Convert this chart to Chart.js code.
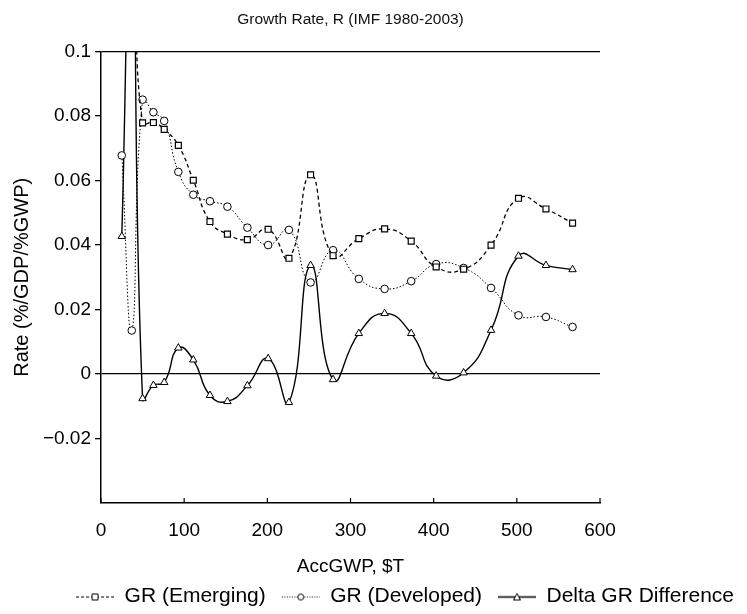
<!DOCTYPE html>
<html>
<head>
<meta charset="utf-8">
<script src="https://cdn.jsdelivr.net/npm/chart.js@4/dist/chart.umd.min.js"></script>
<style>
  html, body { margin: 0; padding: 0; background: #fff; }
  #wrap { width: 747px; height: 614px; }
</style>
</head>
<body>
<div id="wrap"><canvas id="growthChart" width="747" height="614"></canvas></div>
<script>
// accumulated gross world product, $T (x positions of each year)
var accGWP = [25, 37, 50, 63, 76, 93, 111, 131, 152, 176, 201, 226, 252, 279, 310, 341, 373, 403, 436, 469, 502, 535, 567];

// growth rate series
var grEmerging = [0.1105, 0.125, 0.0779, 0.0780, 0.0759, 0.0709, 0.0601, 0.0473, 0.0434, 0.0417, 0.0449, 0.0359, 0.0618, 0.0367, 0.0420, 0.0450, 0.0412, 0.0332, 0.0325, 0.0400, 0.0545, 0.0512, 0.0468];
var grDeveloped = [0.0678, 0.0135, 0.0851, 0.0812, 0.0785, 0.0627, 0.0556, 0.0536, 0.0519, 0.0454, 0.0400, 0.0447, 0.0284, 0.0384, 0.0295, 0.0264, 0.0288, 0.0341, 0.0329, 0.0267, 0.0182, 0.0177, 0.0146];
var grDelta = [0.0427, 0.150, -0.0076, -0.0035, -0.0026, 0.0081, 0.0044, -0.0066, -0.0085, -0.0036, 0.0048, -0.0088, 0.0337, -0.0017, 0.0126, 0.0188, 0.0126, -0.0006, 0.0004, 0.0136, 0.0366, 0.0337, 0.0324];

var seriesNames = ['GR (Emerging)', 'GR (Developed)', 'Delta GR Difference'];

var FONT = '"Liberation Sans", Arial, sans-serif';

function toPoints(ys) {
    return accGWP.map(function (x, i) { return { x: x, y: ys[i] }; });
}

// line + marker icon for the legend, with some blank room on its left
function legendIcon(dash, width, marker) {
    var gap = 16, len = 38;
    var c = document.createElement('canvas');
    c.width = gap + len;
    c.height = 12;
    var g = c.getContext('2d');
    var mid = gap + len / 2;
    g.strokeStyle = '#000';
    g.lineWidth = width;
    g.setLineDash(dash);
    g.beginPath();
    g.moveTo(gap, 6.5);
    g.lineTo(gap + len, 6.5);
    g.stroke();
    g.setLineDash([]);
    g.lineWidth = 1;
    g.fillStyle = '#fff';
    g.beginPath();
    if (marker === 'rect') {
        g.rect(mid - 3, 3.5, 6, 6);
    } else if (marker === 'circle') {
        g.arc(mid, 6.5, 3, 0, Math.PI * 2);
    } else {
        g.moveTo(mid, 3);
        g.lineTo(mid + 3.5, 9.5);
        g.lineTo(mid - 3.5, 9.5);
        g.closePath();
    }
    g.fill();
    g.stroke();
    return c;
}

var icons = [
    legendIcon([3, 2], 1.2, 'rect'),
    legendIcon([1, 1.5], 1, 'circle'),
    legendIcon([], 1.4, 'triangle')
];

// inward tick marks on the x axis
var innerTicks = {
    id: 'innerTicks',
    afterDraw: function (chart) {
        var xs = chart.scales.x;
        var ctx = chart.ctx;
        var bottom = chart.chartArea.bottom;
        ctx.save();
        ctx.strokeStyle = '#000';
        ctx.lineWidth = 1.2;
        xs.ticks.forEach(function (t) {
            var px = xs.getPixelForValue(t.value);
            ctx.beginPath();
            ctx.moveTo(px, bottom);
            ctx.lineTo(px, bottom - 5);
            ctx.stroke();
        });
        ctx.restore();
    }
};

var ctx = document.getElementById('growthChart').getContext('2d');
var growthChart = new Chart(ctx, {
    type: 'line',
    data: {
        datasets: [{
            label: seriesNames[0],
            data: toPoints(grEmerging),
            borderColor: '#000',
            borderWidth: 1.3,
            borderDash: [4, 3],
            pointStyle: 'rect',
            pointRadius: 4.2,
            pointBorderWidth: 1.2,
            pointBackgroundColor: '#fff',
            pointBorderColor: '#000',
            tension: 0.5
        }, {
            label: seriesNames[1],
            data: toPoints(grDeveloped),
            borderColor: '#000',
            borderWidth: 1,
            borderDash: [1.5, 2],
            pointStyle: 'circle',
            pointRadius: 3.8,
            pointBorderWidth: 1,
            pointBackgroundColor: '#fff',
            pointBorderColor: '#000',
            tension: 0.5
        }, {
            label: seriesNames[2],
            data: toPoints(grDelta),
            borderColor: '#000',
            borderWidth: 1.4,
            pointStyle: 'triangle',
            pointRadius: 4.3,
            pointBorderWidth: 1,
            pointBackgroundColor: '#fff',
            pointBorderColor: '#000',
            tension: 0.5
        }]
    },
    options: {
        responsive: false,
        animation: false,
        clip: true,
        layout: { padding: { top: 4, right: 13, bottom: -3, left: 0 } },
        plugins: {
            title: {
                display: true,
                fullSize: false,
                text: 'Growth Rate, R (IMF 1980-2003)',
                color: '#111',
                font: { family: FONT, size: 15.5, weight: 'normal' },
                padding: { top: 6, bottom: 23 }
            },
            legend: {
                position: 'bottom',
                align: 'end',
                labels: {
                    color: '#000',
                    font: { family: FONT, size: 21, lineHeight: 1.1 },
                    usePointStyle: true,
                    pointStyleWidth: 54,
                    padding: 0,
                    generateLabels: function (chart) {
                        return seriesNames.map(function (name, i) {
                            return {
                                text: name,
                                pointStyle: icons[i],
                                datasetIndex: i,
                                fontColor: '#000',
                                lineWidth: 0,
                                strokeStyle: 'transparent',
                                fillStyle: 'transparent'
                            };
                        });
                    }
                }
            },
            tooltip: { enabled: false }
        },
        scales: {
            x: {
                type: 'linear',
                position: 'bottom',
                min: 0,
                max: 600,
                ticks: {
                    stepSize: 100,
                    color: '#000',
                    padding: 16,
                    maxRotation: 0,
                    font: { family: FONT, size: 19 }
                },
                grid: { color: 'transparent', drawTicks: false },
                border: { color: '#000', width: 1.5 },
                title: {
                    display: true,
                    text: 'AccGWP, $T',
                    color: '#000',
                    font: { family: FONT, size: 19 },
                    padding: { top: 13, bottom: 8 }
                },
                afterFit: function (scale) { scale.height = 83; }
            },
            y: {
                min: -0.04,
                max: 0.1,
                ticks: {
                    stepSize: 0.02,
                    color: '#000',
                    padding: 4,
                    font: { family: FONT, size: 19 },
                    callback: function (v) {
                        var r = Math.round(v * 100) / 100;
                        if (r === -0.04) return '';
                        if (r === 0) return '0';
                        return r < 0 ? '\u2212' + String(-r) : String(r);
                    }
                },
                grid: {
                    color: function (c) {
                        var r = Math.round(c.tick.value * 100) / 100;
                        return (r === 0 || r === 0.1) ? '#000' : 'transparent';
                    },
                    lineWidth: 1.3,
                    tickColor: function (c) {
                        var r = Math.round(c.tick.value * 100) / 100;
                        return r === -0.04 ? 'transparent' : '#000';
                    },
                    tickLength: 6
                },
                border: { color: '#000', width: 1.5 },
                title: {
                    display: true,
                    text: 'Rate (%/GDP/%GWP)',
                    color: '#000',
                    font: { family: FONT, size: 20 },
                    padding: { top: 10, bottom: 8 }
                },
                afterFit: function (scale) { scale.width = 101; }
            },
            // empty right-hand axis keeps the blank margin beside the plot
            yRight: {
                position: 'right',
                display: true,
                ticks: { display: false },
                grid: { display: false, drawTicks: false },
                border: { display: false },
                afterFit: function (scale) { scale.width = 134; }
            }
        }
    },
    plugins: [innerTicks]
});
</script>
</body>
</html>
